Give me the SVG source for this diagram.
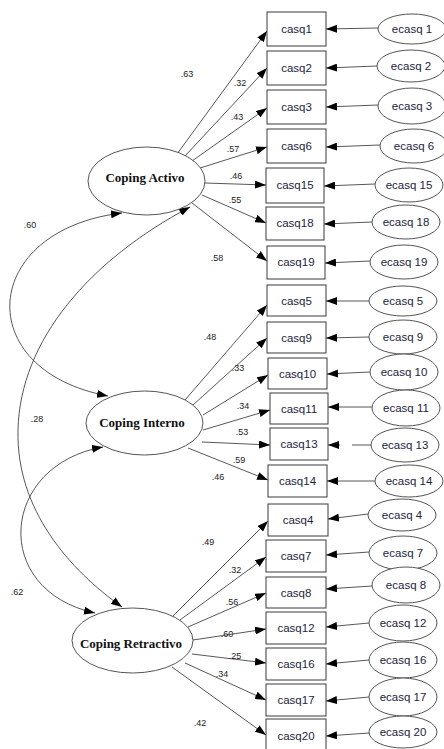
<svg xmlns="http://www.w3.org/2000/svg" width="444" height="749" viewBox="0 0 444 749">
  <style>
    .bg { fill: #ffffff; }
    .obs rect { fill: #ffffff; stroke: #3a3a3a; stroke-width: 1; }
    .obs text, .err text { font-family: "Liberation Sans", Arial, sans-serif; font-size: 11.5px; fill: #1d2440; text-anchor: middle; }
    .err ellipse, .lat ellipse { fill: #ffffff; stroke: #555555; stroke-width: 1; }
    .lat text { font-family: "Liberation Serif", "Times New Roman", serif; font-size: 13px; font-weight: bold; fill: #111111; text-anchor: middle; }
    .path { fill: none; stroke: #444444; stroke-width: 0.9; }
    .cov { fill: none; stroke: #444444; stroke-width: 0.9; marker-start: url(#head); marker-end: url(#head); }
    .arr { marker-end: url(#head); }
    .coef { font-family: "Liberation Sans", Arial, sans-serif; font-size: 9px; fill: #222222; text-anchor: middle; }
  </style>
  <defs>
    <marker id="head" markerUnits="userSpaceOnUse" markerWidth="11" markerHeight="8" refX="11" refY="4" orient="auto-start-reverse">
      <path d="M0,0 L11,4 L0,8 z" fill="#000000"/>
    </marker>
  </defs>
  <rect class="bg" x="0" y="0" width="444" height="749"/>

  <!-- connectors -->
  <g id="connectors">
    <!-- covariances between latent factors -->
    <path class="cov" d="M122,213 C-20,230 -30,370 108,396"/>
    <path class="cov" d="M190,207 C90,260 20,340 18,430 C16,510 70,570 122,607"/>
    <path class="cov" d="M103,447 C0,465 -10,590 95,613"/>

    <!-- Coping Activo loadings -->
    <line class="path arr" x1="177" y1="154" x2="267" y2="31"/>
    <line class="path arr" x1="185" y1="156" x2="267" y2="68"/>
    <line class="path arr" x1="192" y1="161" x2="267" y2="108"/>
    <line class="path arr" x1="200" y1="168" x2="267" y2="147"/>
    <line class="path arr" x1="205" y1="183" x2="266" y2="185"/>
    <line class="path arr" x1="202" y1="195" x2="266" y2="223"/>
    <line class="path arr" x1="192" y1="203" x2="267" y2="261"/>

    <!-- Coping Interno loadings -->
    <line class="path arr" x1="185" y1="400" x2="267" y2="305"/>
    <line class="path arr" x1="193" y1="405" x2="267" y2="338"/>
    <line class="path arr" x1="203" y1="415" x2="268" y2="375"/>
    <line class="path arr" x1="203" y1="430" x2="270" y2="410"/>
    <line class="path arr" x1="202" y1="442" x2="270" y2="445"/>
    <line class="path arr" x1="188" y1="448" x2="268" y2="480"/>

    <!-- Coping Retractivo loadings -->
    <line class="path arr" x1="172" y1="617" x2="268" y2="521"/>
    <line class="path arr" x1="180" y1="620" x2="266" y2="557"/>
    <line class="path arr" x1="188" y1="627" x2="266" y2="593"/>
    <line class="path arr" x1="193" y1="640" x2="266" y2="629"/>
    <line class="path arr" x1="192" y1="654" x2="266" y2="663"/>
    <line class="path arr" x1="185" y1="663" x2="266" y2="700"/>
    <line class="path arr" x1="172" y1="667" x2="266" y2="735"/>

    <!-- residual paths -->
    <line class="path arr" x1="378" y1="28" x2="326" y2="29"/>
    <line class="path arr" x1="377" y1="66" x2="326" y2="68"/>
    <line class="path arr" x1="378" y1="105" x2="326" y2="107"/>
    <line class="path arr" x1="380" y1="145" x2="326" y2="147"/>
    <line class="path arr" x1="375" y1="184" x2="324" y2="186"/>
    <line class="path arr" x1="372" y1="222" x2="324" y2="224"/>
    <line class="path arr" x1="370" y1="261" x2="325" y2="263"/>
    <line class="path arr" x1="369" y1="301" x2="326" y2="301"/>
    <line class="path arr" x1="369" y1="337" x2="326" y2="338"/>
    <line class="path arr" x1="370" y1="372" x2="327" y2="374"/>
    <line class="path arr" x1="372" y1="407" x2="328" y2="407"/>
    <line class="path" x1="371" y1="445" x2="352" y2="445"/>
    <line class="path arr" x1="340" y1="445" x2="328" y2="445"/>
    <line class="path arr" x1="375" y1="481" x2="327" y2="481"/>
    <line class="path arr" x1="368" y1="514" x2="328" y2="519"/>
    <line class="path arr" x1="369" y1="552" x2="326" y2="555"/>
    <line class="path arr" x1="372" y1="586" x2="326" y2="589"/>
    <line class="path arr" x1="369" y1="623" x2="326" y2="627"/>
    <line class="path arr" x1="369" y1="660" x2="326" y2="664"/>
    <line class="path arr" x1="369" y1="697" x2="326" y2="701"/>
    <line class="path arr" x1="369" y1="733" x2="326" y2="736"/>
  </g>

  <!-- coefficients -->
  <g id="coefficients">
    <text class="coef" x="30" y="228">.60</text>
    <text class="coef" x="37" y="422">.28</text>
    <text class="coef" x="17" y="595">.62</text>

    <text class="coef" x="187" y="77">.63</text>
    <text class="coef" x="240" y="86">.32</text>
    <text class="coef" x="237" y="120">.43</text>
    <text class="coef" x="233" y="152">.57</text>
    <text class="coef" x="236" y="179">.46</text>
    <text class="coef" x="235" y="203">.55</text>
    <text class="coef" x="217" y="261">.58</text>

    <text class="coef" x="210" y="340">.48</text>
    <text class="coef" x="238" y="371">.33</text>
    <text class="coef" x="243" y="409">.34</text>
    <text class="coef" x="242" y="435">.53</text>
    <text class="coef" x="239" y="463">.59</text>
    <text class="coef" x="218" y="480">.46</text>

    <text class="coef" x="208" y="545">.49</text>
    <text class="coef" x="235" y="573">.32</text>
    <text class="coef" x="232" y="605">.56</text>
    <text class="coef" x="227" y="637">.60</text>
    <text class="coef" x="235" y="659">.25</text>
    <text class="coef" x="222" y="677">.34</text>
    <text class="coef" x="200" y="726">.42</text>
  </g>

  <!-- latent factors -->
  <g id="coping-activo" class="lat">
    <ellipse cx="146.5" cy="181" rx="58.5" ry="34"/>
    <text x="145" y="182">Coping Activo</text>
  </g>
  <g id="coping-interno" class="lat">
    <ellipse cx="144.5" cy="423" rx="58.5" ry="32"/>
    <text x="142" y="427">Coping Interno</text>
  </g>
  <g id="coping-retractivo" class="lat">
    <ellipse cx="132.5" cy="640.5" rx="60.5" ry="32.5"/>
    <text x="131" y="648">Coping Retractivo</text>
  </g>

  <!-- observed items -->
  <g id="casq1" class="obs"><rect x="267" y="12" width="59" height="34"/><text x="296.5" y="33">casq1</text></g>
  <g id="casq2" class="obs"><rect x="267" y="51" width="59" height="34"/><text x="296.5" y="72">casq2</text></g>
  <g id="casq3" class="obs"><rect x="267" y="90" width="59" height="34"/><text x="296.5" y="111">casq3</text></g>
  <g id="casq6" class="obs"><rect x="267" y="129" width="59" height="34"/><text x="296.5" y="150">casq6</text></g>
  <g id="casq15" class="obs"><rect x="266" y="168" width="58" height="35"/><text x="295" y="189">casq15</text></g>
  <g id="casq18" class="obs"><rect x="266" y="207" width="58" height="33"/><text x="295" y="227">casq18</text></g>
  <g id="casq19" class="obs"><rect x="267" y="246" width="58" height="33"/><text x="296" y="266">casq19</text></g>
  <g id="casq5" class="obs"><rect x="267" y="285" width="59" height="31"/><text x="296.5" y="305">casq5</text></g>
  <g id="casq9" class="obs"><rect x="267" y="322" width="59" height="31"/><text x="296.5" y="342">casq9</text></g>
  <g id="casq10" class="obs"><rect x="268" y="358" width="59" height="31"/><text x="297.5" y="378">casq10</text></g>
  <g id="casq11" class="obs"><rect x="270" y="393" width="58" height="31"/><text x="299" y="413">casq11</text></g>
  <g id="casq13" class="obs"><rect x="270" y="428" width="58" height="32"/><text x="299" y="448">casq13</text></g>
  <g id="casq14" class="obs"><rect x="268" y="465" width="59" height="32"/><text x="297.5" y="485">casq14</text></g>
  <g id="casq4" class="obs"><rect x="268" y="504" width="60" height="32"/><text x="298" y="524">casq4</text></g>
  <g id="casq7" class="obs"><rect x="266" y="540" width="60" height="32"/><text x="296" y="560">casq7</text></g>
  <g id="casq8" class="obs"><rect x="266" y="577" width="60" height="31"/><text x="296" y="597">casq8</text></g>
  <g id="casq12" class="obs"><rect x="266" y="612" width="60" height="32"/><text x="296" y="632">casq12</text></g>
  <g id="casq16" class="obs"><rect x="266" y="648" width="60" height="32"/><text x="296" y="668">casq16</text></g>
  <g id="casq17" class="obs"><rect x="266" y="684" width="60" height="32"/><text x="296" y="704">casq17</text></g>
  <g id="casq20" class="obs"><rect x="266" y="719" width="60" height="32"/><text x="296" y="740">casq20</text></g>

  <!-- residual terms -->
  <g id="ecasq1" class="err"><ellipse cx="412" cy="29" rx="34" ry="15"/><text x="412" y="33">ecasq 1</text></g>
  <g id="ecasq2" class="err"><ellipse cx="411" cy="66" rx="34" ry="16"/><text x="411" y="70">ecasq 2</text></g>
  <g id="ecasq3" class="err"><ellipse cx="412" cy="106" rx="34" ry="18"/><text x="412" y="110">ecasq 3</text></g>
  <g id="ecasq6" class="err"><ellipse cx="414" cy="146" rx="34" ry="17"/><text x="414" y="150">ecasq 6</text></g>
  <g id="ecasq15" class="err"><ellipse cx="409" cy="185" rx="34" ry="17"/><text x="409" y="189">ecasq 15</text></g>
  <g id="ecasq18" class="err"><ellipse cx="406" cy="222" rx="34" ry="17"/><text x="406" y="226">ecasq 18</text></g>
  <g id="ecasq19" class="err"><ellipse cx="404" cy="262" rx="34" ry="17"/><text x="404" y="266">ecasq 19</text></g>
  <g id="ecasq5" class="err"><ellipse cx="403" cy="301" rx="34" ry="15"/><text x="403" y="305">ecasq 5</text></g>
  <g id="ecasq9" class="err"><ellipse cx="403" cy="337" rx="34" ry="17"/><text x="403" y="341">ecasq 9</text></g>
  <g id="ecasq10" class="err"><ellipse cx="404" cy="372" rx="34" ry="18"/><text x="404" y="376">ecasq 10</text></g>
  <g id="ecasq11" class="err"><ellipse cx="406" cy="408" rx="34" ry="18"/><text x="406" y="412">ecasq 11</text></g>
  <g id="ecasq13" class="err"><ellipse cx="405" cy="445" rx="34" ry="17"/><text x="405" y="449">ecasq 13</text></g>
  <g id="ecasq14" class="err"><ellipse cx="409" cy="481" rx="34" ry="16"/><text x="409" y="485">ecasq 14</text></g>
  <g id="ecasq4" class="err"><ellipse cx="402" cy="515" rx="34" ry="16"/><text x="402" y="519">ecasq 4</text></g>
  <g id="ecasq7" class="err"><ellipse cx="403" cy="553" rx="34" ry="17"/><text x="403" y="557">ecasq 7</text></g>
  <g id="ecasq8" class="err"><ellipse cx="406" cy="585" rx="34" ry="18"/><text x="406" y="589">ecasq 8</text></g>
  <g id="ecasq12" class="err"><ellipse cx="403" cy="623" rx="34" ry="18"/><text x="403" y="627">ecasq 12</text></g>
  <g id="ecasq16" class="err"><ellipse cx="403" cy="660" rx="34" ry="18"/><text x="403" y="664">ecasq 16</text></g>
  <g id="ecasq17" class="err"><ellipse cx="403" cy="697" rx="34" ry="19"/><text x="403" y="701">ecasq 17</text></g>
  <g id="ecasq20" class="err"><ellipse cx="403" cy="732" rx="34" ry="16"/><text x="403" y="736">ecasq 20</text></g>
</svg>
